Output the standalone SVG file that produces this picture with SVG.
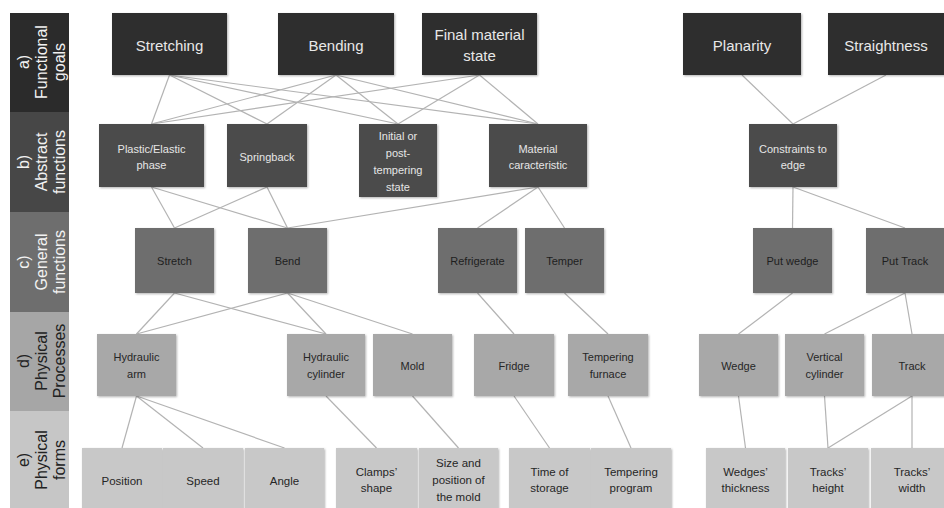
<svg xmlns="http://www.w3.org/2000/svg" width="944" height="508" viewBox="0 0 944 508">
<defs>
<filter id="sh" x="-10%" y="-10%" width="130%" height="130%">
<feDropShadow dx="1" dy="1" stdDeviation="1" flood-color="#000" flood-opacity="0.3"/>
</filter>
</defs>
<style>
text{font-family:"Liberation Sans",Arial,sans-serif;text-anchor:middle;dominant-baseline:central}
.lab{font-size:16px}
.lw{fill:#f2f2f2}
.ld{fill:#222}
.a rect{fill:#2e2e2e;filter:url(#sh)}
.a text{fill:#e8e8e8;font-size:15px}
.b rect{fill:#4b4b4b;filter:url(#sh)}
.b text{fill:#e6e6e6;font-size:11px}
.c rect{fill:#6e6e6e;filter:url(#sh)}
.c text{fill:#1e1e1e;font-size:11px}
.d rect{fill:#a8a8a8;filter:url(#sh)}
.d text{fill:#262626;font-size:11px}
.e rect{fill:#c8c8c8;filter:url(#sh)}
.e text{fill:#262626;font-size:11.5px}
.con line{stroke:#b3b3b3;stroke-width:1.2}
</style>
<rect width="944" height="508" fill="#fff"/>

<g id="levels">
<rect x="10" y="13" width="59" height="99" fill="#2b2b2b"/>
<rect x="10" y="112" width="59" height="100" fill="#474747"/>
<rect x="10" y="212" width="59" height="100" fill="#6e6e6e"/>
<rect x="10" y="312" width="59" height="99" fill="#a6a6a6"/>
<rect x="10" y="411" width="59" height="100" fill="#c6c6c6"/>
<g class="lab lw">
<text transform="translate(23,62) rotate(-90)">a)</text>
<text transform="translate(41,62) rotate(-90)">Functional</text>
<text transform="translate(59,62) rotate(-90)">goals</text>
<text transform="translate(23,162) rotate(-90)">b)</text>
<text transform="translate(41,162) rotate(-90)">Abstract</text>
<text transform="translate(59,162) rotate(-90)">functions</text>
<text transform="translate(23,262) rotate(-90)">c)</text>
<text transform="translate(41,262) rotate(-90)">General</text>
<text transform="translate(59,262) rotate(-90)">functions</text>
</g>
<g class="lab ld">
<text transform="translate(23,361) rotate(-90)">d)</text>
<text transform="translate(41,361) rotate(-90)">Physical</text>
<text transform="translate(59,361) rotate(-90)">Processes</text>
<text transform="translate(23,460) rotate(-90)">e)</text>
<text transform="translate(41,460) rotate(-90)">Physical</text>
<text transform="translate(59,460) rotate(-90)">forms</text>
</g>
</g>

<g id="connectors" class="con">
<line x1="169.5" y1="75" x2="151.5" y2="124"/>
<line x1="169.5" y1="75" x2="267" y2="124"/>
<line x1="169.5" y1="75" x2="398" y2="124"/>
<line x1="169.5" y1="75" x2="538" y2="124"/>
<line x1="336" y1="75" x2="151.5" y2="124"/>
<line x1="336" y1="75" x2="267" y2="124"/>
<line x1="336" y1="75" x2="398" y2="124"/>
<line x1="336" y1="75" x2="538" y2="124"/>
<line x1="479.5" y1="75" x2="151.5" y2="124"/>
<line x1="479.5" y1="75" x2="398" y2="124"/>
<line x1="479.5" y1="75" x2="538" y2="124"/>
<line x1="742" y1="75" x2="793" y2="124"/>
<line x1="886" y1="75" x2="793" y2="124"/>
<line x1="151.5" y1="187" x2="174.5" y2="228"/>
<line x1="151.5" y1="187" x2="287.5" y2="228"/>
<line x1="267" y1="187" x2="174.5" y2="228"/>
<line x1="267" y1="187" x2="287.5" y2="228"/>
<line x1="538" y1="187" x2="287.5" y2="228"/>
<line x1="538" y1="187" x2="477.5" y2="228"/>
<line x1="538" y1="187" x2="564.5" y2="228"/>
<line x1="793" y1="187" x2="792.5" y2="228"/>
<line x1="793" y1="187" x2="905" y2="228"/>
<line x1="174.5" y1="293" x2="136.5" y2="334"/>
<line x1="174.5" y1="293" x2="326" y2="334"/>
<line x1="287.5" y1="293" x2="136.5" y2="334"/>
<line x1="287.5" y1="293" x2="326" y2="334"/>
<line x1="287.5" y1="293" x2="412.5" y2="334"/>
<line x1="477.5" y1="293" x2="514" y2="334"/>
<line x1="564.5" y1="293" x2="608" y2="334"/>
<line x1="792.5" y1="293" x2="738.5" y2="334"/>
<line x1="905" y1="293" x2="824.5" y2="334"/>
<line x1="905" y1="293" x2="912" y2="334"/>
<line x1="136.5" y1="396" x2="122" y2="448"/>
<line x1="136.5" y1="396" x2="203" y2="448"/>
<line x1="136.5" y1="396" x2="284.5" y2="448"/>
<line x1="326" y1="396" x2="376.5" y2="448"/>
<line x1="412.5" y1="396" x2="458.5" y2="448"/>
<line x1="514" y1="396" x2="549.5" y2="448"/>
<line x1="608" y1="396" x2="631" y2="448"/>
<line x1="738.5" y1="396" x2="745.5" y2="448"/>
<line x1="824.5" y1="396" x2="828" y2="448"/>
<line x1="912" y1="396" x2="828" y2="448"/>
<line x1="912" y1="396" x2="912" y2="448"/>
</g>

<g id="stretching" class="a"><rect x="112" y="13" width="115" height="62"/><text x="169.5" y="45">Stretching</text></g>
<g id="bending" class="a"><rect x="278" y="13" width="116" height="62"/><text x="336" y="45">Bending</text></g>
<g id="final-material-state" class="a"><rect x="422" y="13" width="115" height="62"/><text x="479.5" y="34">Final material</text><text x="479.5" y="55">state</text></g>
<g id="planarity" class="a"><rect x="683" y="13" width="118" height="62"/><text x="742" y="45">Planarity</text></g>
<g id="straightness" class="a"><rect x="828" y="13" width="118" height="62"/><text x="886" y="45">Straightness</text></g>

<g id="plastic-elastic" class="b"><rect x="99" y="124" width="105" height="63"/><text x="151.5" y="149">Plastic/Elastic</text><text x="151.5" y="165">phase</text></g>
<g id="springback" class="b"><rect x="227" y="124" width="80" height="63"/><text x="267" y="157">Springback</text></g>
<g id="initial-state" class="b"><rect x="359" y="124" width="78" height="73"/><text x="398" y="136">Initial or</text><text x="398" y="153">post-</text><text x="398" y="170">tempering</text><text x="398" y="187">state</text></g>
<g id="material-caracteristic" class="b"><rect x="489" y="124" width="98" height="63"/><text x="538" y="149">Material</text><text x="538" y="165">caracteristic</text></g>
<g id="constraints-to-edge" class="b"><rect x="749" y="124" width="88" height="63"/><text x="793" y="149">Constraints to</text><text x="793" y="165">edge</text></g>

<g id="stretch" class="c"><rect x="135" y="228" width="79" height="65"/><text x="174.5" y="261">Stretch</text></g>
<g id="bend" class="c"><rect x="248" y="228" width="79" height="65"/><text x="287.5" y="261">Bend</text></g>
<g id="refrigerate" class="c"><rect x="438" y="228" width="79" height="65"/><text x="477.5" y="261">Refrigerate</text></g>
<g id="temper" class="c"><rect x="525" y="228" width="79" height="65"/><text x="564.5" y="261">Temper</text></g>
<g id="put-wedge" class="c"><rect x="753" y="228" width="79" height="65"/><text x="792.5" y="261">Put wedge</text></g>
<g id="put-track" class="c"><rect x="866" y="228" width="80" height="65"/><text x="905" y="261">Put Track</text></g>

<g id="hydraulic-arm" class="d"><rect x="97" y="334" width="79" height="62"/><text x="136.5" y="357">Hydraulic</text><text x="136.5" y="374">arm</text></g>
<g id="hydraulic-cylinder" class="d"><rect x="287" y="334" width="78" height="62"/><text x="326" y="357">Hydraulic</text><text x="326" y="374">cylinder</text></g>
<g id="mold" class="d"><rect x="373" y="334" width="79" height="62"/><text x="412.5" y="366">Mold</text></g>
<g id="fridge" class="d"><rect x="474" y="334" width="80" height="62"/><text x="514" y="366">Fridge</text></g>
<g id="tempering-furnace" class="d"><rect x="568" y="334" width="80" height="62"/><text x="608" y="357">Tempering</text><text x="608" y="374">furnace</text></g>
<g id="wedge" class="d"><rect x="699" y="334" width="79" height="62"/><text x="738.5" y="366">Wedge</text></g>
<g id="vertical-cylinder" class="d"><rect x="785" y="334" width="79" height="62"/><text x="824.5" y="357">Vertical</text><text x="824.5" y="374">cylinder</text></g>
<g id="track" class="d"><rect x="872" y="334" width="80" height="62"/><text x="912" y="366">Track</text></g>

<g id="position" class="e"><rect x="82" y="448" width="80" height="64"/><text x="122" y="481">Position</text></g>
<g id="speed" class="e"><rect x="163" y="448" width="80" height="64"/><text x="203" y="481">Speed</text></g>
<g id="angle" class="e"><rect x="245" y="448" width="79" height="64"/><text x="284.5" y="481">Angle</text></g>
<g id="clamps-shape" class="e"><rect x="336" y="448" width="81" height="64"/><text x="376.5" y="472">Clamps’</text><text x="376.5" y="488">shape</text></g>
<g id="size-position-mold" class="e"><rect x="419" y="448" width="79" height="64"/><text x="458.5" y="463">Size and</text><text x="458.5" y="480">position of</text><text x="458.5" y="497">the mold</text></g>
<g id="time-of-storage" class="e"><rect x="509" y="448" width="81" height="64"/><text x="549.5" y="472">Time of</text><text x="549.5" y="488">storage</text></g>
<g id="tempering-program" class="e"><rect x="591" y="448" width="80" height="64"/><text x="631" y="472">Tempering</text><text x="631" y="488">program</text></g>
<g id="wedges-thickness" class="e"><rect x="706" y="448" width="79" height="64"/><text x="745.5" y="472">Wedges’</text><text x="745.5" y="488">thickness</text></g>
<g id="tracks-height" class="e"><rect x="788" y="448" width="80" height="64"/><text x="828" y="472">Tracks’</text><text x="828" y="488">height</text></g>
<g id="tracks-width" class="e"><rect x="871" y="448" width="82" height="64"/><text x="912" y="472">Tracks’</text><text x="912" y="488">width</text></g>
</svg>
